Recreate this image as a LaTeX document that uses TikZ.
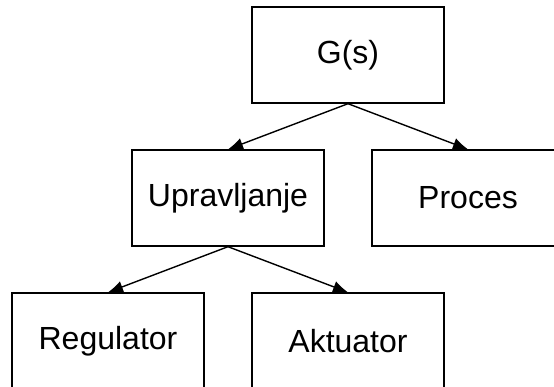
\documentclass[tikz,border=0pt]{standalone}
\usepackage{fontspec}
\setmainfont{Liberation Sans}
\usepackage{tikz}
\usetikzlibrary{arrows.meta}
\tikzset{>={Latex[width=12pt,length=15pt]}}
\tikzset{blok/.style={draw, line width=1.4pt, inner sep=0pt,
    minimum width=192pt, minimum height=96pt,
    font=\fontsize{32}{38}\selectfont}}

\begin{document}
\begin{tikzpicture}[x=1pt,y=1pt]

  \newcommand\DX{120};
  \newcommand\DY{143};

  \useasboundingbox (0,0) rectangle (554,387);
  \clip (0,0) rectangle (554,387);

  \node[blok](gs) at (348, 332){G(s)};
  \node[blok](uprav) at (348-\DX, 332-\DY){Upravljanje};
  \node[blok](proc) at (348+\DX, 332-\DY){Proces};
  \node[blok](reg) at (348-2*\DX, 332-2*\DY){Regulator};
  \node[blok](akt) at (348, 332-2*\DY){Aktuator};

  \draw[->, line width=1.4pt](gs.south) -- (uprav.north);
  \draw[->, line width=1.4pt](gs.south) -- (proc.north);
  \draw[->, line width=1.4pt](uprav.south) -- (reg.north);
  \draw[->, line width=1.4pt](uprav.south) -- (akt.north);

\end{tikzpicture}
\end{document}
